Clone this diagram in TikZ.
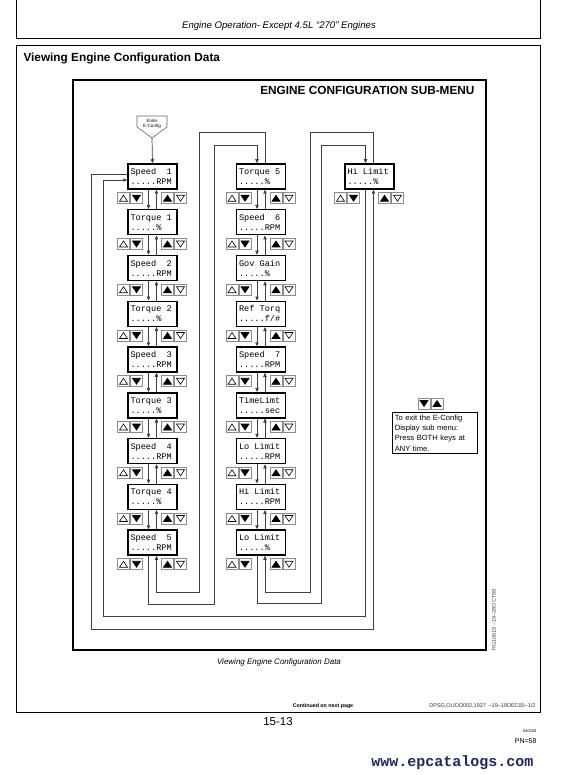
\documentclass[tikz,border=0pt]{standalone}
\usepackage{fontspec}
\setmainfont{Liberation Sans}
\newfontfamily\monof{Liberation Mono}
\usetikzlibrary{arrows.meta}
\definecolor{navy}{RGB}{30,40,95}
\newcommand\ms{\hphantom{0}}
\tikzset{
  mbox/.style={draw=black, line width=1.5pt, fill=white, minimum width=49pt, minimum height=25pt,
    inner sep=0pt, text width=44pt, align=left, font=\monof\fontsize{8.6}{10}\selectfont},
  conn/.style={draw=black!75, line width=0.7pt},
  arr/.style={-{Triangle[length=4pt,width=3.4pt]}},
  btnframe/.style={draw=black!45, line width=1pt, fill=white},
  tri/.style={draw=black, line width=0.6pt, line join=miter},
  pics/upo/.style={code={\draw[btnframe] (0,0) rectangle (12,11);
      \draw[tri,fill=white] (2,8.5) -- (10,8.5) -- (6,2.5) -- cycle;}},
  pics/upf/.style={code={\draw[btnframe] (0,0) rectangle (12,11);
      \draw[tri,fill=black] (2,8.5) -- (10,8.5) -- (6,2.5) -- cycle;}},
  pics/dno/.style={code={\draw[btnframe] (0,0) rectangle (12,11);
      \draw[tri,fill=white] (2,2.5) -- (10,2.5) -- (6,8.5) -- cycle;}},
  pics/dnf/.style={code={\draw[btnframe] (0,0) rectangle (12,11);
      \draw[tri,fill=black] (2,2.5) -- (10,2.5) -- (6,8.5) -- cycle;}},
  pics/btns/.style={code={\pic at (-35,3) {upo}; \pic at (-22,3) {dnf};
      \pic at (9,3) {upf}; \pic at (22,3) {dno};}}
}
\begin{document}
\begin{tikzpicture}[x=1pt,y=-1pt]
\useasboundingbox (0,0) rectangle (586,775);
\fill[white] (0,0) rectangle (586,775);
% page frames
\draw[line width=0.8pt] (16,0) -- (16,38) -- (540,38) -- (540,0);
\draw[line width=0.8pt] (16,45) rectangle (540,712);
\node[font=\itshape\fontsize{9.6}{11}\selectfont] (hdr) at (279,26) {Engine Operation- Except 4.5L ``270'' Engines};
\node[font=\bfseries\fontsize{11.8}{13}\selectfont, anchor=west] (ttl) at (20,58) {Viewing Engine Configuration Data};
% diagram frame
\draw[line width=1.2pt] (73,80) rectangle (486,650);
\node[font=\bfseries\fontsize{11.8}{13}\selectfont, anchor=east] (dtitle) at (478,90) {ENGINE CONFIGURATION SUB-MENU};
% entry
\draw[black!60, line width=0.6pt, fill=white] (137,116) -- (167,116) -- (167,127) -- (152,138) -- (137,127) -- cycle;
\node[font=\fontsize{4.5}{5.5}\selectfont, align=center, inner sep=0pt] (enter) at (152,124) {Enter\\E-Config};
\coordinate (entertip) at (152,138);
% column 1
\node[mbox] (a0) at (152.5,176.5) {Speed\ms\ms1\\.....RPM};
\node[mbox] (a1) at (152.5,222.25) {Torque\ms1\\.....\%};
\node[mbox] (a2) at (152.5,268) {Speed\ms\ms2\\.....RPM};
\node[mbox] (a3) at (152.5,313.75) {Torque\ms2\\.....\%};
\node[mbox] (a4) at (152.5,359.5) {Speed\ms\ms3\\.....RPM};
\node[mbox] (a5) at (152.5,405.25) {Torque\ms3\\.....\%};
\node[mbox] (a6) at (152.5,451) {Speed\ms\ms4\\.....RPM};
\node[mbox] (a7) at (152.5,496.75) {Torque\ms4\\.....\%};
\node[mbox] (a8) at (152.5,542.5) {Speed\ms\ms5\\.....RPM};
% column 2
\node[mbox] (b0) at (261,176.5) {Torque\ms5\\.....\%};
\node[mbox] (b1) at (261,222.25) {Speed\ms\ms6\\.....RPM};
\node[mbox] (b2) at (261,268) {Gov\ms{}Gain\\.....\%};
\node[mbox] (b3) at (261,313.75) {Ref\ms{}Torq\\.....f/\#};
\node[mbox] (b4) at (261,359.5) {Speed\ms\ms7\\.....RPM};
\node[mbox] (b5) at (261,405.25) {TimeLimt\\.....sec};
\node[mbox] (b6) at (261,451) {Lo\ms{}Limit\\.....RPM};
\node[mbox] (b7) at (261,496.75) {Hi\ms{}Limit\\.....RPM};
\node[mbox] (b8) at (261,542.5) {Lo\ms{}Limit\\.....\%};
% column 3
\node[mbox] (c0) at (369.5,176.5) {Hi\ms{}Limit\\.....\%};
% buttons
\foreach \n in {a0,a1,a2,a3,a4,a5,a6,a7,a8,b0,b1,b2,b3,b4,b5,b6,b7,b8,c0}
  \pic at (\n.south) {btns};
% in-column connectors
\foreach \c in {a,b}{
  \foreach \i [evaluate=\i as \j using int(\i+1)] in {0,...,7}{
    \draw[conn,arr] ([xshift=-4pt]\c\i.south) -- ([xshift=-4pt]\c\j.north);
    \draw[conn,arr] ([xshift=4pt]\c\j.north) -- ([xshift=4pt]\c\i.south);
  }
}
\draw[conn,arr] (entertip) -- (a0.north);
% loop Speed 5 <-> Torque 5
\draw[conn,arr] ([xshift=-4pt]a8.south) |- (214,604) |- (257,145) -- ([xshift=-4pt]b0.north);
\draw[conn,arr] ([xshift=4pt]b0.north) |- (199,132) |- (156.5,592) -- ([xshift=4pt]a8.south);
% loop Lo Limit <-> Hi Limit
\draw[conn,arr] ([xshift=-4pt]b8.south) |- (321,603) |- (365.5,145) -- ([xshift=-4pt]c0.north);
\draw[conn,arr] ([xshift=4pt]c0.north) |- (310,132) |- (265,592) -- ([xshift=4pt]b8.south);
% loop Hi Limit <-> Speed 1
\draw[conn,arr] ([xshift=-4pt]c0.south) |- (103,616) |- ([yshift=-3.5pt]a0.west);
\draw[conn,arr] ([yshift=2.5pt]a0.west) -| (91,629) -| ([xshift=4pt]c0.south);
% exit note
\pic at (418,398) {dnf};
\pic at (431,398) {upf};
\node[draw, line width=0.6pt, anchor=north west, text width=80pt, inner sep=2.5pt, align=left,
  font=\fontsize{7.6}{10.3}\selectfont] (note) at (392,412) {To exit the E-Config\\Display sub menu:\\Press BOTH keys at\\ANY time.};
% side id
\node[rotate=90, font=\fontsize{5.5}{6}\selectfont, text=black!70] (rg) at (494,620) {RG10619 --19--28OCT99};
% caption
\node[font=\itshape\fontsize{8}{9}\selectfont] (cap) at (279,662) {Viewing Engine Configuration Data};
% footer
\node[font=\bfseries\fontsize{5.3}{6}\selectfont] (cont) at (323,706) {Continued on next page};
\node[font=\fontsize{5.5}{6}\selectfont, anchor=east, text=black!80] (dpsg) at (539,706) {DPSG,OUOD002,1927\enspace --19--19DEC00--1/2};
\node[font=\fontsize{11.5}{13}\selectfont] (pg) at (278,722) {15-13};
\node[font=\fontsize{4}{5}\selectfont, anchor=east] (dt) at (540,731) {040103};
\node[font=\fontsize{7}{8}\selectfont, anchor=east] (pn) at (540,741) {PN=58};
\node[font=\monof\bfseries\fontsize{15}{16}\selectfont, text=navy, anchor=east] (www) at (537,763) {www.epcatalogs.com};
\end{tikzpicture}
\end{document}
